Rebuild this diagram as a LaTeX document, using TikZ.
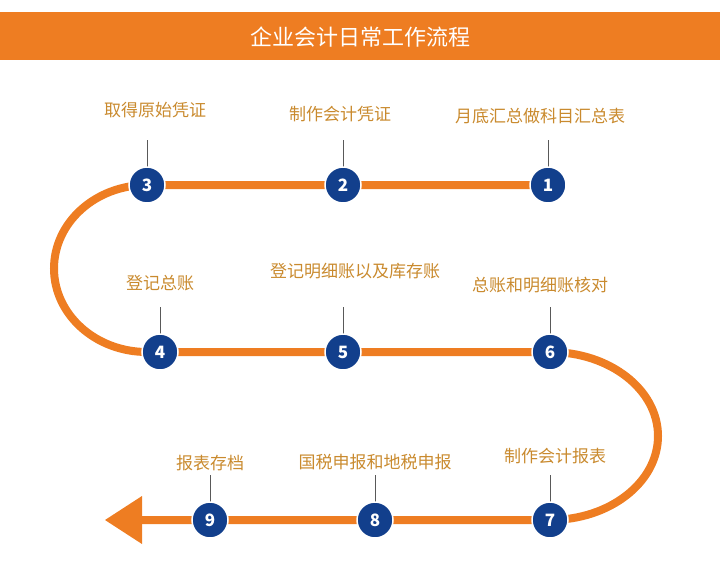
\documentclass[tikz,border=0pt]{standalone}
\usepackage{fontspec}
\setmainfont{Noto Sans CJK SC}
\usetikzlibrary{arrows.meta}
\definecolor{route}{HTML}{EE7D22}
\definecolor{dot}{HTML}{123F8C}
\definecolor{txt}{HTML}{C98A2E}

\begin{document}
\begin{tikzpicture}[x=1pt,y=-1pt,
    stepdot/.style={circle,fill=dot,draw=white,line width=1.5pt,minimum size=36pt,inner sep=0pt,text=white,font=\fontsize{17}{17}\selectfont\bfseries},
    steptext/.style={text=txt,font=\fontsize{17}{20}\selectfont}]
  \useasboundingbox (0,0) rectangle (720,579);
  \fill[route] (0,12) rectangle (720,60);
  \node[text=white,font=\fontsize{22}{24}\selectfont] (title) at (360,37) {企业会计日常工作流程};

  % route
  \draw[route,line width=8pt] (548,185) -- (147,185) arc[start angle=-90,end angle=-270,x radius=93,y radius=83.5] -- (550,352)
    arc[start angle=-90,end angle=90,x radius=108,y radius=84] -- (140,520);
  \fill[route] (105,520) -- (142,496) -- (142,544) -- cycle;

  % stems and labels
  \foreach \n/\x/\y/\ty/\tx/\lab in {
      1/548/185/116/540/月底汇总做科目汇总表, 2/343/185/114/340/制作会计凭证,
      3/147/185/110/155/取得原始凭证, 4/160/352/283/160/登记总账,
      5/343/352/271/355/登记明细账以及库存账, 6/550/352/285/540/总账和明细账核对,
      7/550/520/456/555/制作会计报表, 8/375/520/462/375/国税申报和地税申报,
      9/210/520/463/210/报表存档} {
    \node[steptext] (l\n) at (\tx,\ty) {\lab};
    \coordinate (s\n) at (\x,\y-45);
    \draw[gray!70!black,line width=1pt] (s\n) -- (\x,\y);
    \node[stepdot] (d\n) at (\x,\y) {\n};
  }
\end{tikzpicture}
\end{document}
